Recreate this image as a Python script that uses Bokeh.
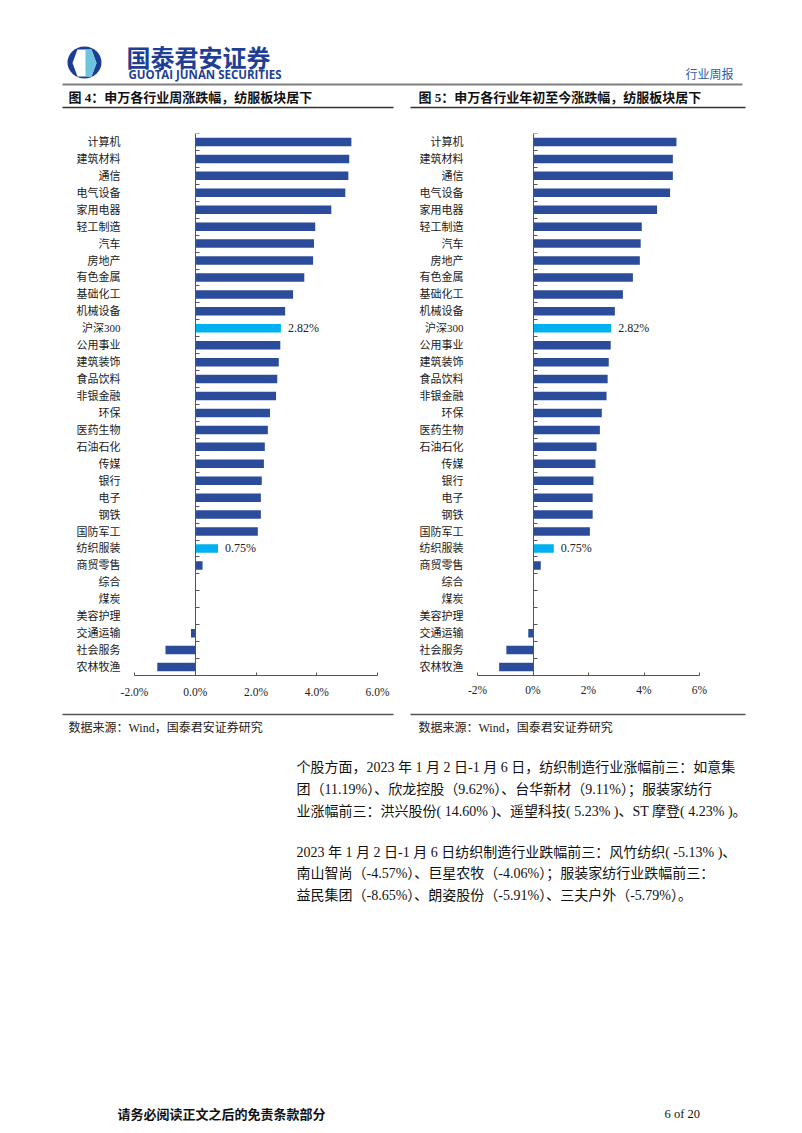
from bokeh.plotting import figure
from bokeh.layouts import column, row
from bokeh.models import (ColumnDataSource, Range1d, LinearAxis, FixedTicker,
                          PrintfTickFormatter)
from bokeh.core.properties import value
from bokeh.embed import file_html
from bokeh.resources import INLINE

# ---------------- data ----------------
categories = ["计算机", "建筑材料", "通信", "电气设备", "家用电器", "轻工制造", "汽车", "房地产",
              "有色金属", "基础化工", "机械设备", "沪深300", "公用事业", "建筑装饰", "食品饮料",
              "非银金融", "环保", "医药生物", "石油石化", "传媒", "银行", "电子", "钢铁",
              "国防军工", "纺织服装", "商贸零售", "综合", "煤炭", "美容护理", "交通运输",
              "社会服务", "农林牧渔"]
weekly_change = [5.14, 5.07, 5.04, 4.94, 4.48, 3.95, 3.91, 3.88, 3.59, 3.22, 2.96, 2.82,
                 2.80, 2.75, 2.70, 2.66, 2.46, 2.39, 2.29, 2.26, 2.19, 2.16, 2.16, 2.06,
                 0.75, 0.24, 0.02, 0.02, 0.02, -0.14, -0.98, -1.25]
ytd_change = [5.17, 5.04, 5.04, 4.94, 4.47, 3.92, 3.88, 3.85, 3.60, 3.24, 2.95, 2.82,
              2.80, 2.73, 2.69, 2.65, 2.48, 2.41, 2.29, 2.25, 2.18, 2.15, 2.15, 2.05,
              0.75, 0.28, 0.03, 0.03, 0.03, -0.17, -0.96, -1.22]
highlighted = ["沪深300", "纺织服装"]
ticks_pct = [-2, 0, 2, 4, 6]

DARK = "#2B4C9A"
LIGHT = "#00B0F0"
CJK = value("Noto Sans CJK SC")
MIX = value("Liberation Serif, Noto Sans CJK SC")
MIXF = "Liberation Serif, Noto Sans CJK SC"
PAGE_W = 794


def blank(w, h, x0, x1, y0, y1):
    p = figure(width=w, height=h, x_range=Range1d(x0, x1), y_range=Range1d(y1, y0),
               output_backend="svg", toolbar_location=None, min_border=0)
    p.axis.visible = False
    p.grid.visible = False
    p.outline_line_color = None
    return p


def chart(vals, w, h, bl, br, bt, bb, fmt, standoff):
    n = len(categories)
    p = figure(width=w, height=h, x_range=Range1d(ticks_pct[0], ticks_pct[-1]),
               y_range=Range1d(n - 0.5, -0.5), output_backend="svg",
               toolbar_location=None, x_axis_location=None, y_axis_location=None,
               min_border_left=bl, min_border_right=br, min_border_top=bt,
               min_border_bottom=bb)
    p.grid.visible = False
    p.outline_line_color = None
    idx = list(range(n))
    colors = [LIGHT if c in highlighted else DARK for c in categories]
    src = ColumnDataSource(dict(y=idx, v=vals, color=colors))
    p.hbar(y="y", left=0, right="v", height=0.5, fill_color="color",
           line_color=None, source=src)
    # value labels for highlighted rows
    hx = [vals[categories.index(c)] for c in highlighted]
    hy = [categories.index(c) for c in highlighted]
    ht = ["%.2f%%" % v for v in hx]
    p.text(x=hx, y=hy, text=ht, x_offset=7, text_baseline="middle",
           text_font=value("Liberation Serif"), text_font_size="12px",
           text_color="#222222")
    # category label axis
    lab = LinearAxis(ticker=FixedTicker(ticks=idx),
                     major_label_overrides={i: c for i, c in enumerate(categories)})
    lab.axis_line_color = None
    lab.major_tick_line_color = None
    lab.minor_tick_line_color = None
    lab.major_label_standoff = 8
    lab.major_label_text_font = MIXF
    lab.major_label_text_font_size = "11px"
    lab.major_label_text_color = "#1a1a1a"
    p.add_layout(lab, "left")
    # zero axis with boundary ticks
    zero = LinearAxis(ticker=FixedTicker(ticks=[], minor_ticks=[i - 0.5 for i in range(n + 1)]),
                      fixed_location=0)
    zero.axis_line_color = "#555555"
    zero.minor_tick_line_color = "#555555"
    zero.minor_tick_in = 4
    zero.minor_tick_out = 0
    zero.major_tick_line_color = None
    zero.major_label_text_font_size = "0px"
    p.add_layout(zero, "left")
    # x axis
    xa = LinearAxis(ticker=FixedTicker(ticks=ticks_pct), formatter=PrintfTickFormatter(format=fmt))
    xa.axis_line_color = "#555555"
    xa.major_tick_line_color = "#555555"
    xa.major_tick_in = 3
    xa.major_tick_out = 0
    xa.minor_tick_line_color = None
    xa.major_label_standoff = standoff
    xa.major_label_text_font = "Liberation Serif"
    xa.major_label_text_font_size = "11.5px"
    xa.major_label_text_color = "#222222"
    p.add_layout(xa, "below")
    return p


# ---------------- header (page y 0..115) ----------------
hdr = blank(PAGE_W, 115, 0, PAGE_W, 0, 115)
hdr.ellipse(x=[84], y=[62], width=[34], height=[32], fill_color="#1B3E93", line_color=None)
hdr.patch(x=[77, 91, 96, 91, 77, 72], y=[49, 49, 62.5, 76, 76, 62.5], fill_color="white", line_color=None)
hdr.patch(x=[85, 91, 96, 91, 85], y=[49, 49, 62.5, 76, 76], fill_color="#6CC4DF", line_color=None)
hdr.text(x=[126], y=[56], text=["国泰君安证券"], text_font=CJK, text_font_size="24px",
         text_font_style="bold", text_color="#1F3F95", text_baseline="middle")
hdr.text(x=[128], y=[74], text=["GUOTAI JUNAN SECURITIES"], text_font=value("Open Sans"),
         text_font_size="11.5px", text_font_style="bold", text_color="#1F3F95",
         text_baseline="middle")
hdr.segment(x0=[62], y0=[84], x1=[742], y1=[84], line_color="#7f7f7f", line_width=2)
hdr.text(x=[733], y=[73], text=["行业周报"], text_font=CJK, text_font_size="12px",
         text_color="#2A5CAA", text_align="right", text_baseline="middle")
hdr.text(x=[68, 418], y=[97, 97],
         text=["图 4：申万各行业周涨跌幅，纺服板块居下", "图 5：申万各行业年初至今涨跌幅，纺服板块居下"],
         text_font=MIX, text_font_size="13px", text_font_style="bold",
         text_color="#111111", text_baseline="middle")
hdr.segment(x0=[62, 410], y0=[107, 107], x1=[393, 745], y1=[107, 107],
            line_color="#333333", line_width=1.5)

# ---------------- charts (page y 115..705) ----------------
c1 = chart(weekly_change, 401, 590, 134, 24, 11, 26, "%.1f%%", 10)
c2 = chart(ytd_change, PAGE_W - 401, 590, 76, 95, 18, 30, "%d%%", 8)

# ---------------- body (page y 705..1125) ----------------
body = blank(PAGE_W, 420, 0, PAGE_W, 705, 1125)
body.segment(x0=[62, 410], y0=[714, 714], x1=[393, 745], y1=[714, 714],
             line_color="#555555", line_width=1.5)
body.text(x=[68, 418], y=[727, 727], text=["数据来源：Wind，国泰君安证券研究"] * 2,
          text_font=MIX, text_font_size="12px", text_color="#222222",
          text_baseline="middle")
para_lines = [
    "个股方面，2023 年 1 月 2 日-1 月 6 日，纺织制造行业涨幅前三：如意集",
    "团（11.19%）、欣龙控股（9.62%）、台华新材（9.11%）；服装家纺行",
    "业涨幅前三：洪兴股份( 14.60% )、遥望科技( 5.23% )、ST 摩登( 4.23% )。",
    "2023 年 1 月 2 日-1 月 6 日纺织制造行业跌幅前三：风竹纺织( -5.13% )、",
    "南山智尚（-4.57%）、巨星农牧（-4.06%）；服装家纺行业跌幅前三：",
    "益民集团（-8.65%）、朗姿股份（-5.91%）、三夫户外（-5.79%）。",
]
para_y = [767, 789, 811, 852, 873, 895]
body.text(x=[296] * 6, y=para_y, text=para_lines, text_font=MIX, text_font_size="14px",
          text_color="#111111", text_baseline="middle")
body.text(x=[117], y=[1113], text=["请务必阅读正文之后的免责条款部分"], text_font=CJK,
          text_font_size="13px", text_font_style="bold", text_color="#111111",
          text_baseline="middle")
body.text(x=[664], y=[1113], text=["6 of 20"], text_font=value("Liberation Serif"),
          text_font_size="12.5px", text_color="#111111", text_baseline="middle")

layout = column(hdr, row(c1, c2), body)
open("out.html", "w").write(file_html(layout, INLINE))
